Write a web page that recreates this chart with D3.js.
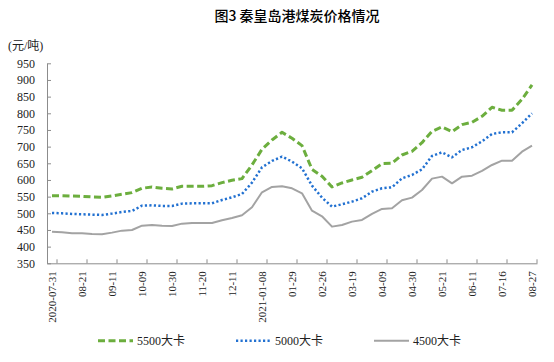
<!DOCTYPE html>
<html><head><meta charset="utf-8">
<script src="https://cdn.jsdelivr.net/npm/d3@7"></script>
<style>
body{margin:0;background:#fff;}
svg{display:block;}
</style></head>
<body>
<svg id="chart" width="554" height="362"></svg>
<script>
const categories = ["2020-07-31","08-07","08-14","08-21","08-28","09-04","09-11","09-18","09-25","10-09","10-16","10-23","10-30","11-06","11-13","11-20","11-27","12-04","12-11","12-18","12-25","2021-01-08","01-15","01-22","01-29","02-05","02-19","02-26","03-05","03-12","03-19","03-26","04-02","04-09","04-16","04-23","04-30","05-07","05-14","05-21","05-28","06-04","06-11","06-25","07-02","07-16","07-30","08-13","08-27"];
const s5500 = [553,553,552,551,549,548,552,557,562,575,579,575,573,581,581,581,583,592,599,604,645,692,720,743,725,703,632,611,579,591,600,608,628,649,650,675,686,712,746,759,745,766,773,791,818,809,809,842,885];
const s5000 = [501,500,498,497,496,495,499,504,507,523,524,522,522,529,530,530,530,540,548,558,592,638,657,670,655,635,583,547,520,527,535,545,565,575,578,605,615,632,672,683,668,690,698,716,738,743,743,770,800];
const s4500 = [445,443,440,440,438,437,442,448,450,463,465,463,462,469,471,471,471,479,486,494,518,563,579,581,575,560,508,491,460,465,475,480,498,513,515,539,547,570,604,610,590,610,613,627,645,658,658,685,703];
const yTicks = [350,400,450,500,550,600,650,700,750,800,850,900,950];
const seriesNames = ["5500大卡","5000大卡","4500大卡"];
const title = "图3 秦皇岛港煤炭价格情况";
const unit = "(元/吨)";

const svg = d3.select("#chart");
const pLeft = 47, pRight = 537, pTop = 63.3, pBottom = 263.3;
const x = d3.scaleBand().domain(categories).range([pLeft, pRight]).padding(0);
const y = d3.scaleLinear().domain([350, 950]).range([pBottom, pTop]);
const bw = x.bandwidth();
const serifFont = "'Liberation Serif','Times New Roman',serif";
const axisColor = "#8c8c8c";

svg.append("text").attr("x", 297).attr("y", 21).attr("text-anchor", "middle")
  .attr("font-family", "'Noto Sans CJK SC',sans-serif").attr("font-size", 14).attr("font-weight", 500)
  .attr("fill", "#000").text(title);
svg.append("text").attr("x", 8).attr("y", 50)
  .attr("font-family", "'Liberation Serif','Noto Sans CJK SC',serif").attr("font-size", 12)
  .attr("fill", "#222").text(unit);

// Y axis
const yAxis = svg.append("g").attr("transform", `translate(${pLeft},0)`)
  .call(d3.axisLeft(y).tickValues(yTicks).tickSizeInner(-4).tickSizeOuter(0).tickPadding(12));
yAxis.selectAll("path,line").attr("stroke", axisColor);
yAxis.selectAll("text").attr("font-family", serifFont).attr("font-size", 12).attr("fill", "#222");

// X axis
const labelCats = categories.filter((d, i) => i % 3 === 0);
const xAxis = svg.append("g").attr("transform", `translate(0,${pBottom})`)
  .call(d3.axisBottom(x).tickValues(labelCats).tickSizeInner(-4).tickSizeOuter(0));
xAxis.select("path").attr("stroke", axisColor);
xAxis.selectAll(".tick line").attr("stroke", axisColor).attr("transform", `translate(${bw/2},0)`);
xAxis.selectAll(".tick text")
  .attr("font-family", serifFont).attr("font-size", 11).attr("fill", "#222")
  .attr("text-anchor", "end").attr("transform", "rotate(-90)")
  .attr("x", -8).attr("y", 0).attr("dy", "0.35em");

const line = d3.line().x((d, i) => x(categories[i]) + bw / 2).y(d => y(d));
const styles = [
  {data: s5500, color: "#6CAE3E", width: 3, dash: "7,3.5"},
  {data: s5000, color: "#2271D1", width: 2.5, dash: "2.2,2.3"},
  {data: s4500, color: "#A3A3A3", width: 2, dash: null}
];
styles.forEach(s => {
  svg.append("path").datum(s.data).attr("d", line)
    .attr("fill", "none").attr("stroke", s.color).attr("stroke-width", s.width)
    .attr("stroke-dasharray", s.dash).attr("stroke-linejoin", "round");
});

// Legend
const legendX = [98, 236, 374];
const legY = 340.7;
styles.forEach((s, i) => {
  const g = svg.append("g").attr("transform", `translate(${legendX[i]},${legY})`);
  g.append("line").attr("x1", 0).attr("x2", 35).attr("y1", 0).attr("y2", 0)
    .attr("stroke", s.color).attr("stroke-width", s.width).attr("stroke-dasharray", s.dash);
  g.append("text").attr("x", 39).attr("y", 0).attr("dy", "0.35em")
    .attr("font-family", "'Liberation Serif','Noto Sans CJK SC',serif").attr("font-size", 12)
    .attr("fill", "#222").text(seriesNames[i]);
});
</script>
</body></html>
